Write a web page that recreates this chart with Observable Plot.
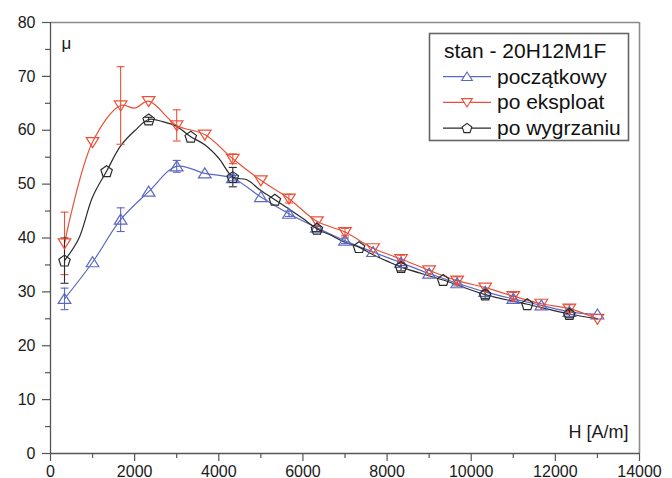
<!DOCTYPE html>
<html><head><meta charset="utf-8">
<script src="https://cdn.jsdelivr.net/npm/d3@7"></script>
<script src="https://cdn.jsdelivr.net/npm/@observablehq/plot@0.6"></script>
<style>
body{margin:0;background:#fff;font-family:"Liberation Sans",Arial,sans-serif;}
#wrap{position:relative;width:672px;height:478px;overflow:hidden;}
#legend{position:absolute;left:428px;top:32px;}
</style></head>
<body><div id="wrap"></div>
<script>
// ---- data ----
const seriesNames = ["początkowy", "po eksploat", "po wygrzaniu"];
const legendTitle = "stan - 20H12M1F";

const blueH  = [333,1000,1667,2333,3000,3667,4333,5000,5667,6333,7000,7667,8333,9000,9667,10333,11000,11667,12333,13000];
const blueMu = [28.7,35.5,43.4,48.6,53.3,52.0,51.1,47.6,44.5,41.9,39.5,37.4,35.4,33.4,31.6,30.0,28.7,27.5,26.3,25.8];
const blueErrH = [333,1667,3000,4333,5667,7000,8333,9667,11000,12333];
const blueErr  = [2.0,2.2,1.1,0.5,0.5,0.5,0.5,0.5,0.5,0.5];

const redH  = [333,1000,1667,2000,2333,3000,3667,4333,5000,5667,6333,7000,7667,8333,9000,9667,10333,11000,11667,12333,13000];
const redMu = [39.0,57.8,64.6,64.1,65.4,60.9,59.2,54.7,50.7,47.3,43.1,41.1,38.1,36.1,34.0,32.1,30.8,29.2,27.8,26.9,25.0];
const redMark = [1,1,1,0,1,1,1,1,1,1,1,1,1,1,1,1,1,1,1,1,1];
const redErrH = [333,1667,3000,4333,5667,7000,8333,9667,11000,12333];
const redErr  = [5.8,7.2,2.9,0.9,0.8,0.7,0.7,0.7,0.7,0.7];

const blackH  = [333,667,1000,1333,1667,2000,2333,2667,3000,3333,3667,4000,4333,4667,5000,5333,5667,6000,6333,6667,7000,7333,7667,8000,8333,9333,10333,11333,12333,13000];
const blackMu = [35.8,39.8,47.6,52.4,57.1,59.9,62.0,61.6,60.7,58.8,57.3,54.8,51.3,50.8,48.8,47.1,45.4,43.6,41.7,40.5,39.2,38.3,36.9,35.7,34.6,32.2,29.5,27.7,25.9,25.0];
const blackMark = [1,0,0,1,0,0,1,0,0,1,0,0,1,0,0,1,0,0,1,0,0,1,0,0,1,1,1,1,1,0];
const blackErrH = [333,2333,4333,6333,8333,10333,12333];
const blackErr  = [4.2,0.4,1.8,0.5,0.7,0.7,0.7];

const xMajor = [0,2000,4000,6000,8000,10000,12000,14000];
const xMinor = [1000,3000,5000,7000,9000,11000,13000];
const yMajor = [0,10,20,30,40,50,60,70,80];
const yMinor = [5,15,25,35,45,55,65,75];

// ---- styles ----
const BLUE = "#5b68c2", RED = "#ea5038", BLACK = "#2a2a2a";

function tri(up){ return {draw(ctx){ const s = up ? 1 : -1; ctx.moveTo(0,-5.5*s); ctx.lineTo(6.3,4.5*s); ctx.lineTo(-6.3,4.5*s); ctx.closePath(); }}; }
const triUp = tri(true), triDown = tri(false);
const pentagon = {draw(ctx){ const r = 6; for(let i=0;i<5;i++){ const a = -Math.PI/2 + i*2*Math.PI/5; const x = r*Math.cos(a), y = r*Math.sin(a)+0.5; i ? ctx.lineTo(x,y) : ctx.moveTo(x,y);} ctx.closePath(); }};
const cap = {draw(ctx){ ctx.moveTo(-4,0); ctx.lineTo(4,0); }};

function rows(H, M, mark){ return H.map((h,i)=>({H:h, mu:M[i], mark: mark ? !!mark[i] : true})); }
function errRows(EH, E, H, M){ return EH.map((h,i)=>({H:h, mu:M[H.indexOf(h)], e:E[i]})); }

const blue = rows(blueH, blueMu), red = rows(redH, redMu, redMark), black = rows(blackH, blackMu, blackMark);
const blueE = errRows(blueErrH, blueErr, blueH, blueMu);
const redE = errRows(redErrH, redErr, redH, redMu);
const blackE = errRows(blackErrH, blackErr, blackH, blackMu);

function errMarks(data, color){
  return [
    Plot.ruleX(data, {x:"H", y1:d=>d.mu-d.e, y2:d=>d.mu+d.e, stroke:color, strokeWidth:1.1}),
    Plot.dot(data, {x:"H", y:d=>d.mu-d.e, symbol:cap, fill:"none", stroke:color, strokeWidth:1.1}),
    Plot.dot(data, {x:"H", y:d=>d.mu+d.e, symbol:cap, fill:"none", stroke:color, strokeWidth:1.1})
  ];
}

const chart = Plot.plot({
  width:672, height:478,
  marginLeft:50, marginTop:22, marginRight:33, marginBottom:25,
  style:{fontFamily:"'Liberation Sans', Arial, sans-serif", fontSize:"16px", color:"#1a1a1a", background:"white", overflow:"visible"},
  x:{domain:[0,14000]},
  y:{domain:[0,80]},
  marks:[
    Plot.ruleY([80], {stroke:"#8c8c8c", strokeWidth:1.6}),
    Plot.ruleX([14000], {stroke:"#8c8c8c", strokeWidth:1.6}),
    Plot.ruleX([0], {stroke:"#555", strokeWidth:1.3}),
    Plot.ruleY([0], {stroke:"#555", strokeWidth:1.3}),
    Plot.axisX({ticks:xMajor, tickSize:8, tickPadding:4, tickFormat:d=>String(d), label:null, stroke:"#555", strokeWidth:1.2}),
    Plot.axisX({ticks:xMinor, tickSize:5, tickFormat:()=>"", label:null, stroke:"#555", strokeWidth:1.2}),
    Plot.axisY({ticks:yMajor, tickSize:8, tickPadding:7, tickFormat:d=>String(d), label:null, stroke:"#555", strokeWidth:1.2}),
    Plot.axisY({ticks:yMinor, tickSize:5, tickFormat:()=>"", label:null, stroke:"#555", strokeWidth:1.2}),
    Plot.line(blue, {x:"H", y:"mu", stroke:BLUE, strokeWidth:1.2, curve:"catmull-rom"}),
    Plot.line(red, {x:"H", y:"mu", stroke:RED, strokeWidth:1.2, curve:"catmull-rom"}),
    Plot.line(black, {x:"H", y:"mu", stroke:BLACK, strokeWidth:1.2, curve:"catmull-rom"}),
    ...errMarks(blueE, BLUE),
    ...errMarks(redE, RED),
    ...errMarks(blackE, BLACK),
    Plot.dot(blue.filter(d=>d.mark), {x:"H", y:"mu", symbol:triUp, fill:"none", stroke:BLUE, strokeWidth:1.2}),
    Plot.dot(red.filter(d=>d.mark), {x:"H", y:"mu", symbol:triDown, fill:"none", stroke:RED, strokeWidth:1.2}),
    Plot.dot(black.filter(d=>d.mark), {x:"H", y:"mu", symbol:pentagon, fill:"none", stroke:BLACK, strokeWidth:1.2}),
    Plot.text(["μ"], {text:d=>d, frameAnchor:"top-left", textAnchor:"start", lineAnchor:"middle", dx:11, dy:21, fontSize:17}),
    Plot.text(["H [A/m]"], {text:d=>d, frameAnchor:"bottom-right", textAnchor:"end", lineAnchor:"middle", dx:-11, dy:-21, fontSize:18})
  ]
});
const wrap = document.getElementById("wrap");
wrap.appendChild(chart);

// ---- legend (inside plot, top-right) ----
const lg = d3.select(wrap).append("svg").attr("id","legend").attr("width",202).attr("height",110)
  .style("font-family","'Liberation Sans', Arial, sans-serif");
lg.append("rect").attr("x",1.5).attr("y",1.5).attr("width",199).attr("height",107)
  .attr("fill","white").attr("stroke","#666").attr("stroke-width",1.6);
lg.append("text").attr("x",16).attr("y",26).attr("font-size",21).attr("fill","#111").text(legendTitle);
const legItems = [
  {name:seriesNames[0], color:BLUE, sym:triUp},
  {name:seriesNames[1], color:RED, sym:triDown},
  {name:seriesNames[2], color:BLACK, sym:pentagon}
];
legItems.forEach((it,i)=>{
  const by = 51.7 + i*25.7, cy = by - 7;
  const g = lg.append("g");
  g.append("line").attr("x1",15).attr("x2",63).attr("y1",cy).attr("y2",cy).attr("stroke",it.color).attr("stroke-width",1.2);
  const p = d3.path(); it.sym.draw(p, 36);
  g.append("path").attr("d", p.toString()).attr("transform",`translate(39,${cy}) scale(0.85)`)
    .attr("fill","white").attr("stroke",it.color).attr("stroke-width",1.3);
  g.append("text").attr("x",69).attr("y",by).attr("font-size",21).attr("fill","#111").text(it.name);
});
</script>
</body></html>
